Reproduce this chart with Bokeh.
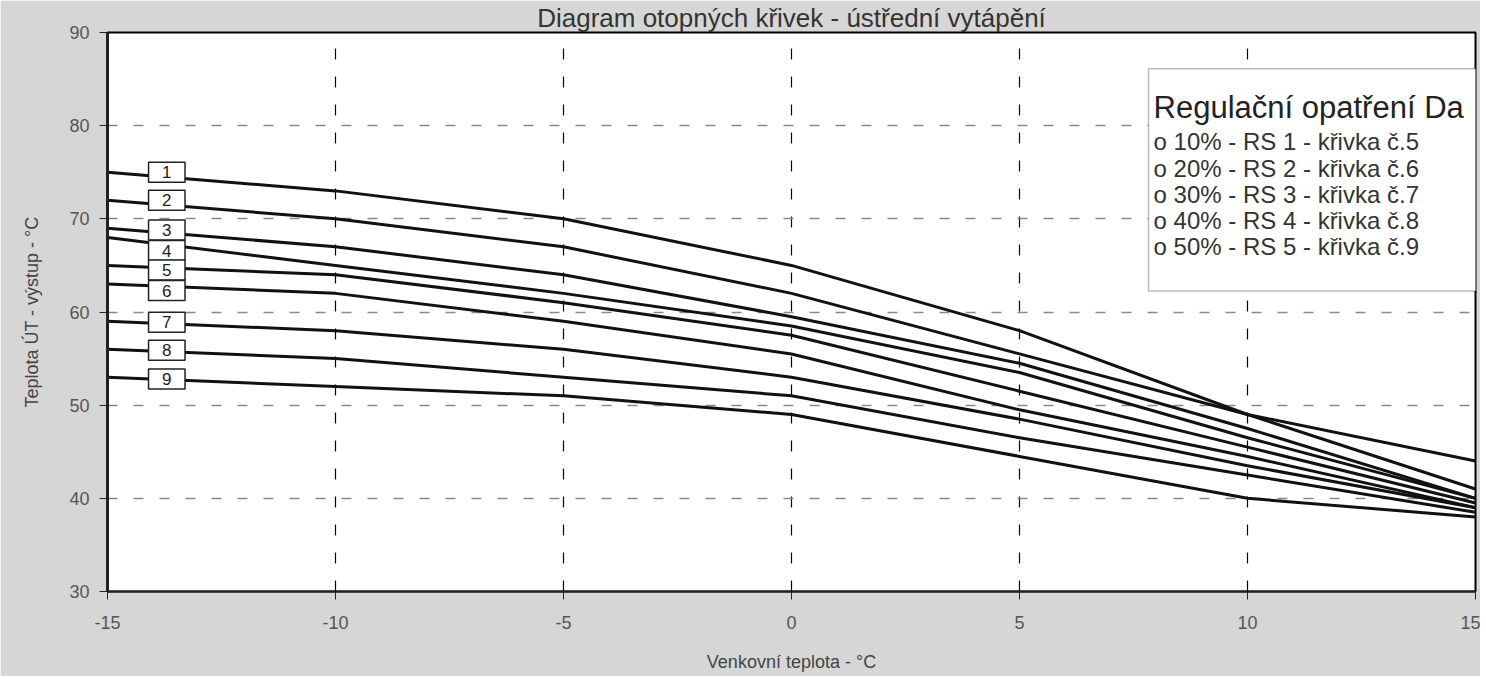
from bokeh.plotting import figure
from bokeh.models import Label, BoxAnnotation, ColumnDataSource, FixedTicker
from bokeh.core.properties import value
from bokeh.embed import file_html
from bokeh.resources import INLINE

# ---- data ----
outdoor_temp = [-15, -10, -5, 0, 5, 10, 15]
curve_1 = [75, 73, 70, 65, 58, 49, 41]
curve_2 = [72, 70, 67, 62, 55.5, 49, 44]
curve_3 = [69, 67, 64, 59.5, 54.5, 47.5, 40]
curve_4 = [68, 65, 62, 58.5, 53.5, 46.5, 40]
curve_5 = [65, 64, 61, 57.5, 51.5, 45.5, 39.5]
curve_6 = [63, 62, 59, 55.5, 49.5, 44.5, 39]
curve_7 = [59, 58, 56, 53, 48.5, 43.5, 39]
curve_8 = [56, 55, 53, 51, 46.5, 42.5, 38.5]
curve_9 = [53, 52, 51, 49, 44.5, 40, 38]
curves = [curve_1, curve_2, curve_3, curve_4, curve_5, curve_6, curve_7, curve_8, curve_9]

curve_names = ["1", "2", "3", "4", "5", "6", "7", "8", "9"]
label_x = [-13.7] * 9
label_y = [75, 72, 68.8, 66.6, 64.5, 62.3, 58.9, 55.9, 52.8]

x_ticks = [-15, -10, -5, 0, 5, 10, 15]
y_ticks = [30, 40, 50, 60, 70, 80, 90]
x_tick_labels = {t: str(t) for t in x_ticks}

title_text = "Diagram otopných křivek - ústřední vytápění"
x_label = "Venkovní teplota - °C"
y_label = "Teplota ÚT - výstup - °C"
legend_title = "Regulační opatření Da"
legend_items = [
    "o 10% - RS 1 - křivka č.5",
    "o 20% - RS 2 - křivka č.6",
    "o 30% - RS 3 - křivka č.7",
    "o 40% - RS 4 - křivka č.8",
    "o 50% - RS 5 - křivka č.9",
]

FONT = "Liberation Sans"

p = figure(width=1480, height=676, x_range=(-15, 15), y_range=(30, 90),
           output_backend="svg", toolbar_location=None,
           min_border_left=107, min_border_right=5, min_border_top=4,
           min_border_bottom=85)

p.title.text = title_text
p.title.align = "center"
p.title.offset = -101
p.title.standoff = 0
p.title.text_font = FONT
p.title.text_font_size = "26px"
p.title.text_line_height = 0.8
p.title.text_font_style = "normal"
p.title.text_color = "#333333"

p.background_fill_color = "white"
p.border_fill_color = "#d6d6d6"
p.outline_line_color = "black"
p.outline_line_width = 2

p.xaxis.ticker = FixedTicker(ticks=x_ticks)
p.xaxis.major_label_overrides = x_tick_labels
p.yaxis.ticker = FixedTicker(ticks=y_ticks)
for ax in (p.xaxis, p.yaxis):
    ax.major_label_text_font = FONT
    ax.major_label_text_font_size = "18px"
    ax.major_label_text_color = "#555555"
    ax.axis_label_text_font = FONT
    ax.axis_label_text_font_size = "18px"
    ax.axis_label_text_font_style = "normal"
    ax.axis_label_text_color = "#444444"
    ax.minor_tick_line_color = None
    ax.major_tick_out = 8
    ax.major_tick_in = 0
    ax.major_tick_line_color = "#222222"
    ax.axis_line_color = "#222222"

p.xaxis.axis_label = x_label
p.yaxis.axis_label = y_label
p.xaxis.major_label_standoff = 16
p.xaxis.axis_label_standoff = 20
p.yaxis.major_label_standoff = 10
p.yaxis.axis_label_standoff = 24
p.yaxis.axis_line_width = 3
p.xaxis.axis_line_width = 2

p.xgrid.grid_line_color = "black"
p.xgrid.grid_line_width = 1.2
p.xgrid.grid_line_dash = "11 17"
p.ygrid.grid_line_color = "#8a8a8a"
p.ygrid.grid_line_width = 1.3
p.ygrid.grid_line_dash = "10 16"

for c in curves:
    p.line(outdoor_temp, c, line_color="#111111", line_width=3, line_join="round")

src = ColumnDataSource(dict(x=label_x, y=label_y, t=curve_names))
p.rect(x="x", y="y", width=0.8, height=2.15, source=src, fill_color="white",
       line_color="#222222", line_width=1.5)
p.text(x="x", y="y", text="t", source=src, text_align="center",
       text_baseline="middle", text_font=value(FONT), text_font_size="17px",
       text_color="#222222")

# legend box
box = BoxAnnotation(left=7.83, right=15.3, bottom=62.25, top=86.1,
                    fill_color="white", fill_alpha=1.0,
                    line_color="#222222", line_width=1.5)
p.add_layout(box)
p.add_layout(Label(x=7.94, y=81.94, text=legend_title, text_baseline="middle",
                   text_font=FONT, text_font_size="31px", text_color="#222222"))
item_y = [78.31, 75.45, 72.57, 69.79, 66.99]
for t, yy in zip(legend_items, item_y):
    p.add_layout(Label(x=7.94, y=yy, text=t, text_baseline="middle",
                       text_font=FONT, text_font_size="24px", text_color="#333333"))

open("out.html", "w").write(file_html(p, INLINE))
